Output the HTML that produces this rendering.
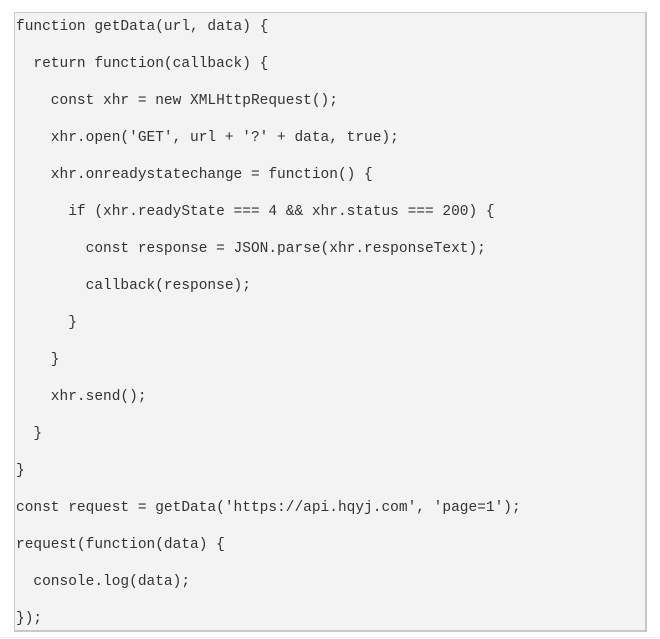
<!DOCTYPE html>
<html><head><style>
html,body{margin:0;padding:0;background:#fff;width:660px;height:639px;overflow:hidden}
.box{position:absolute;left:14px;top:12px;width:630px;height:617px;background:#f3f3f3;border:1px solid #ccc;border-right:2px solid #c8c8c8;border-bottom:2px solid #c8c8c8}
pre{margin:0;position:absolute;left:1px;top:-4px;font-family:"Liberation Mono",monospace;font-size:14.5px;line-height:37px;color:#333}
.hr{position:absolute;left:0;top:637px;width:660px;height:1px;background:#eee}
</style></head><body>
<div class="box"><pre>function getData(url, data) {
  return function(callback) {
    const xhr = new XMLHttpRequest();
    xhr.open('GET', url + '?' + data, true);
    xhr.onreadystatechange = function() {
      if (xhr.readyState === 4 &amp;&amp; xhr.status === 200) {
        const response = JSON.parse(xhr.responseText);
        callback(response);
      }
    }
    xhr.send();
  }
}
const request = getData('https://api.hqyj.com', 'page=1');
request(function(data) {
  console.log(data);
});</pre></div>
<div class="hr"></div>
</body></html>
